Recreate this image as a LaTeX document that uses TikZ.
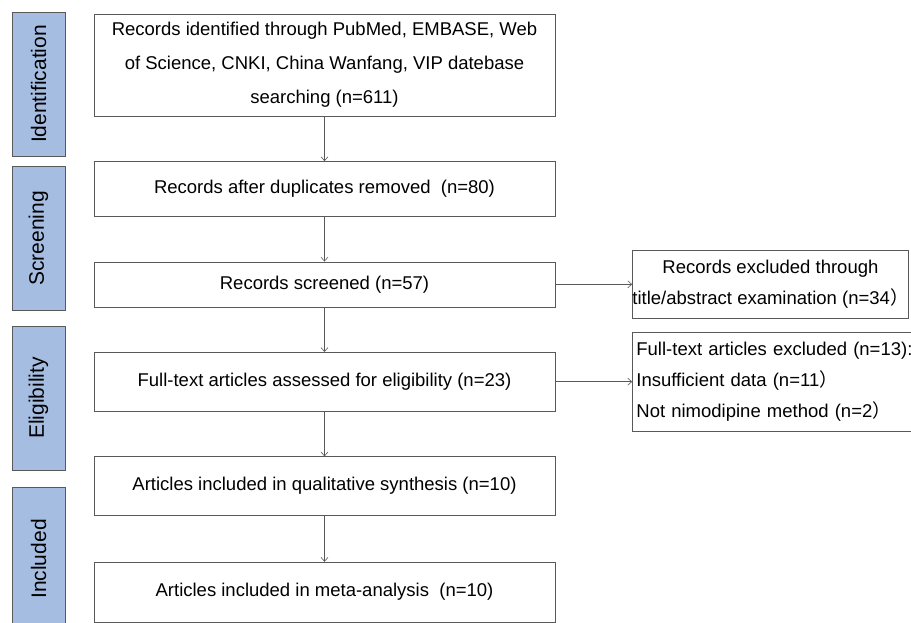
\documentclass[tikz,border=0pt]{standalone}
\usepackage{fontspec}
\setmainfont{Liberation Sans}
\newfontfamily\cjk{Noto Sans CJK SC}
\usetikzlibrary{arrows.meta,positioning}

\definecolor{stagefill}{HTML}{A6BDE2}
\definecolor{edgegray}{HTML}{595959}
\newcommand{\fwclose}{{\cjk ）}}

\begin{document}
\begin{tikzpicture}[
    x=1pt, y=1pt,
    stage/.style={draw=edgegray, fill=stagefill, rotate=90, minimum width=144pt, minimum height=53pt, inner sep=0pt, font=\fontsize{21}{24}\selectfont},
    rec/.style={draw=edgegray, rectangle, minimum width=461pt, align=center, inner sep=0pt, font=\fontsize{18.5}{34}\selectfont},
    excl/.style={draw=edgegray, rectangle, inner sep=0pt, font=\fontsize{18.5}{31}\selectfont},
    arr/.style={-{Straight Barb[length=4pt,width=7pt]}, draw=edgegray, line width=0.6pt}
  ]
    \useasboundingbox (0,0) rectangle (911,-623);

    % stages on the left
    \node[stage] (ident) at (38.5,-84) {Identification};
    \node[stage] (screen) at (38.5,-238.5) {Screening};
    \node[stage] (elig) at (38.5,-398) {Eligibility};
    \node[stage] (incl) at (38.5,-559) {Included};

    % main flow
    \node[rec, minimum height=102pt] (ident1) at (324.5,-65) {Records identified through PubMed, EMBASE, Web\\of Science, CNKI, China Wanfang, VIP datebase\\searching (n=611)};
    \node[rec, minimum height=55pt, below=45pt of ident1] (dup) {Records after duplicates removed\ \ (n=80)};
    \node[rec, minimum height=45pt, below=45pt of dup] (scr) {Records screened (n=57)};
    \node[rec, minimum height=59pt, below=45pt of scr] (full) {Full-text articles assessed for eligibility (n=23)};
    \node[rec, minimum height=59pt, below=45pt of full] (qual) {Articles included in qualitative synthesis (n=10)};
    \node[rec, minimum height=60pt, below=46pt of qual] (meta) {Articles included in meta-analysis\ \ (n=10)};

    % exclusions
    \node[excl, minimum width=275pt, minimum height=68pt, align=center, right=77pt of scr] (exA) {Records excluded through\\title/abstract examination (n=34\fwclose};
    \node[excl, minimum width=285pt, minimum height=99pt, align=left, right=77pt of full, text width=277pt, inner xsep=4pt] (exB) {Full-text articles excluded (n=13):\\Insufficient data (n=11\fwclose\\Not nimodipine method (n=2\fwclose};

    \draw[arr] (ident1) -- (dup);
    \draw[arr] (dup) -- (scr);
    \draw[arr] (scr) -- (full);
    \draw[arr] (full) -- (qual);
    \draw[arr] (qual) -- (meta);
    \draw[arr] (scr) -- (exA);
    \draw[arr] (full) -- (exB);
\end{tikzpicture}
\end{document}
